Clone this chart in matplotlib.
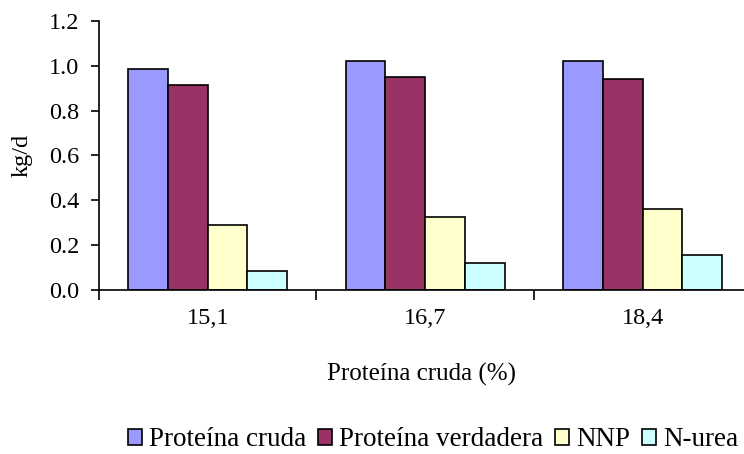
import numpy as np
import matplotlib.pyplot as plt

plt.rcParams['font.family'] = ['Liberation Serif', 'DejaVu Serif']

# protein fractions (kg/d) per crude protein level
niveles = ['15,1', '16,7', '18,4']
series = ['Proteína cruda', 'Proteína verdadera', 'NNP', 'N-urea']
proteina_cruda = [0.984, 1.02, 1.02]
proteina_verdadera = [0.913, 0.949, 0.94]
nnp = [0.29, 0.327, 0.363]
n_urea = [0.086, 0.122, 0.157]
colores = ['#9999FF', '#993366', '#FFFFCC', '#CCFFFF']

valores = [proteina_cruda, proteina_verdadera, nnp, n_urea]

fig = plt.figure(figsize=(7.44, 4.54), dpi=100)
ax = fig.add_axes([0.133, 0.361, 0.867, 0.593])

x = np.arange(len(niveles))
w = 0.1825
for i, (nombre, vals) in enumerate(zip(series, valores)):
    ax.bar(x + (i - 1.5) * w, vals, width=w, color=colores[i],
           edgecolor='black', linewidth=1.2, label=nombre)

fs = 17.5
ax.set_ylim(0, 1.2)
ax.set_xlim(-0.5, 2.466)
ax.set_yticks(np.arange(0, 1.21, 0.2))
ax.set_yticklabels(['%.1f' % v for v in np.arange(0, 1.21, 0.2)])
ax.set_xticks(x)
ax.set_xticklabels(niveles)
ax.set_xticks([-0.5, 0.5, 1.5], minor=True)
ax.tick_params(axis='x', which='major', length=0, pad=13, labelsize=fs)
ax.tick_params(axis='x', which='minor', length=7, width=1.2, direction='out')
ax.tick_params(axis='y', length=6, width=1.2, labelsize=fs, pad=8)

for s in ['top', 'right']:
    ax.spines[s].set_visible(False)
ax.spines['left'].set_linewidth(1.2)
ax.spines['bottom'].set_linewidth(1.2)

ax.set_ylabel('kg/d', fontsize=fs, labelpad=12)
ax.set_xlabel('Proteína cruda (%)', fontsize=18, labelpad=24)

fig.legend(loc='center', bbox_to_anchor=(0.582, 0.031), ncol=4, frameon=False,
           fontsize=19.5, handlelength=0.52, handleheight=0.52, handletextpad=0.25,
           columnspacing=0.45)

fig.savefig('out.png', dpi=100)
